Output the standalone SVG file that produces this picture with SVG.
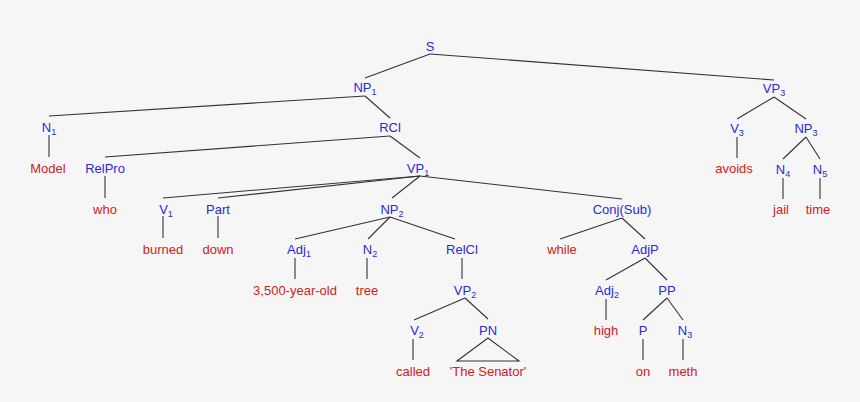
<svg xmlns="http://www.w3.org/2000/svg" width="860" height="402" viewBox="0 0 860 402">
<style>
text{font-family:"Liberation Sans",Arial,sans-serif;font-size:13px;text-anchor:middle}
.c{fill:#2a2ad8}.w{fill:#d42020}
.e line,.e path{stroke:#333;stroke-width:1.1;fill:none}
tspan.s{font-size:9px}
</style>
<rect width="860" height="402" fill="#f6f6f6"/>
<g class="e" id="connectors">
<line x1="430" y1="54" x2="365" y2="78"/><line x1="430" y1="54" x2="774" y2="80"/>
<line x1="365" y1="96" x2="49" y2="116"/><line x1="365" y1="96" x2="390" y2="118"/>
<line x1="49" y1="135" x2="49" y2="157"/>
<line x1="390" y1="136" x2="105" y2="157"/><line x1="390" y1="136" x2="420" y2="158"/>
<line x1="105" y1="176" x2="105" y2="198"/>
<line x1="420" y1="176" x2="163" y2="198"/><line x1="420" y1="176" x2="218" y2="198"/>
<line x1="420" y1="176" x2="392" y2="198"/><line x1="420" y1="176" x2="622" y2="199"/>
<line x1="163" y1="216" x2="163" y2="238"/><line x1="218" y1="216" x2="218" y2="238"/>
<line x1="390" y1="217" x2="295" y2="239"/><line x1="390" y1="217" x2="368" y2="239"/><line x1="390" y1="217" x2="455" y2="239"/>
<line x1="622" y1="218" x2="560" y2="239"/><line x1="622" y1="218" x2="645" y2="239"/>
<line x1="295" y1="258" x2="295" y2="279"/><line x1="367" y1="258" x2="367" y2="279"/><line x1="462" y1="258" x2="462" y2="279"/>
<line x1="645" y1="258" x2="606" y2="280"/><line x1="645" y1="258" x2="667" y2="280"/>
<line x1="465" y1="298" x2="414" y2="320"/><line x1="465" y1="298" x2="488" y2="319"/>
<line x1="606" y1="299" x2="606" y2="320"/>
<line x1="667" y1="298" x2="643" y2="320"/><line x1="667" y1="298" x2="683" y2="320"/>
<line x1="413" y1="339" x2="413" y2="360"/><line x1="643" y1="339" x2="643" y2="360"/><line x1="683" y1="339" x2="683" y2="360"/>
<path d="M488 338 L457 361 L519 361 Z"/>
<line x1="774" y1="97" x2="737" y2="119"/><line x1="774" y1="97" x2="806" y2="119"/>
<line x1="737" y1="137" x2="737" y2="158"/>
<line x1="806" y1="137" x2="783" y2="159"/><line x1="806" y1="137" x2="820" y2="159"/>
<line x1="783" y1="178" x2="783" y2="199"/><line x1="820" y1="178" x2="820" y2="199"/>
</g>
<g id="S"><text class="c" x="430" y="51">S</text></g>
<g id="NP1"><text class="c" x="365" y="92">NP<tspan class="s" dy="3">1</tspan></text></g>
<g id="VP3"><text class="c" x="774" y="93">VP<tspan class="s" dy="3">3</tspan></text></g>
<g id="N1"><text class="c" x="49" y="132">N<tspan class="s" dy="3">1</tspan></text></g>
<g id="RCl"><text class="c" x="390" y="132">RCl</text></g>
<g id="V3"><text class="c" x="737" y="133">V<tspan class="s" dy="3">3</tspan></text></g>
<g id="NP3"><text class="c" x="806" y="133">NP<tspan class="s" dy="3">3</tspan></text></g>
<g id="Model"><text class="w" x="48" y="173">Model</text></g>
<g id="RelPro"><text class="c" x="105" y="173">RelPro</text></g>
<g id="VP1"><text class="c" x="418" y="173">VP<tspan class="s" dy="3">1</tspan></text></g>
<g id="avoids"><text class="w" x="734" y="173">avoids</text></g>
<g id="N4"><text class="c" x="783" y="174">N<tspan class="s" dy="3">4</tspan></text></g>
<g id="N5"><text class="c" x="820" y="174">N<tspan class="s" dy="3">5</tspan></text></g>
<g id="who"><text class="w" x="105" y="214">who</text></g>
<g id="V1"><text class="c" x="166" y="214">V<tspan class="s" dy="3">1</tspan></text></g>
<g id="Part"><text class="c" x="218" y="214">Part</text></g>
<g id="NP2"><text class="c" x="392" y="214">NP<tspan class="s" dy="3">2</tspan></text></g>
<g id="ConjSub"><text class="c" x="622" y="214">Conj(Sub)</text></g>
<g id="jail"><text class="w" x="781" y="214">jail</text></g>
<g id="time"><text class="w" x="818" y="214">time</text></g>
<g id="burned"><text class="w" x="163" y="254">burned</text></g>
<g id="down"><text class="w" x="218" y="254">down</text></g>
<g id="Adj1"><text class="c" x="299" y="254">Adj<tspan class="s" dy="3">1</tspan></text></g>
<g id="N2"><text class="c" x="370" y="254">N<tspan class="s" dy="3">2</tspan></text></g>
<g id="RelCl"><text class="c" x="462" y="254">RelCl</text></g>
<g id="while"><text class="w" x="562" y="254">while</text></g>
<g id="AdjP"><text class="c" x="645" y="254">AdjP</text></g>
<g id="old"><text class="w" x="295" y="295">3,500-year-old</text></g>
<g id="tree"><text class="w" x="367" y="295">tree</text></g>
<g id="VP2"><text class="c" x="465" y="295">VP<tspan class="s" dy="3">2</tspan></text></g>
<g id="Adj2"><text class="c" x="607" y="295">Adj<tspan class="s" dy="3">2</tspan></text></g>
<g id="PP"><text class="c" x="667" y="295">PP</text></g>
<g id="V2"><text class="c" x="417" y="335">V<tspan class="s" dy="3">2</tspan></text></g>
<g id="PN"><text class="c" x="488" y="335">PN</text></g>
<g id="high"><text class="w" x="606" y="335">high</text></g>
<g id="P"><text class="c" x="643" y="335">P</text></g>
<g id="N3"><text class="c" x="685" y="335">N<tspan class="s" dy="3">3</tspan></text></g>
<g id="called"><text class="w" x="413" y="376">called</text></g>
<g id="Senator"><text class="w" x="488" y="376">'The Senator'</text></g>
<g id="on"><text class="w" x="643" y="376">on</text></g>
<g id="meth"><text class="w" x="683" y="376">meth</text></g>
</svg>
